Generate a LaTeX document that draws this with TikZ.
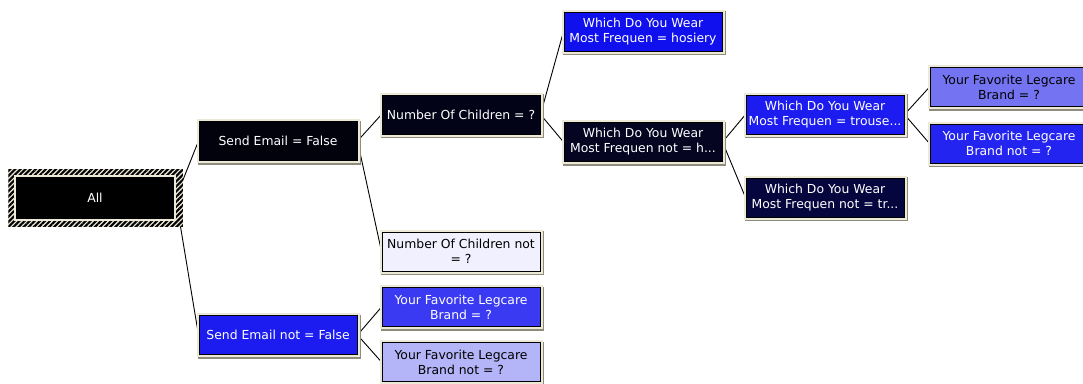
\documentclass[tikz,border=0pt]{standalone}
\usepackage{fontspec}
\setmainfont{DejaVu Sans}
\usetikzlibrary{patterns.meta,backgrounds}

% palette
\definecolor{frame}{HTML}{ECE9D8}
\definecolor{frameshade}{HTML}{8E8C7C}
\definecolor{nblack}{HTML}{02020C}
\definecolor{nnavyA}{HTML}{030318}
\definecolor{nnavyB}{HTML}{050522}
\definecolor{nnavyC}{HTML}{06063E}
\definecolor{nblue}{HTML}{1010EE}
\definecolor{nblueB}{HTML}{1C1CF0}
\definecolor{nblueC}{HTML}{2424F0}
\definecolor{nblueD}{HTML}{3A3AF2}
\definecolor{nmid}{HTML}{7474F2}
\definecolor{nlight}{HTML}{B4B4F8}
\definecolor{npale}{HTML}{F0F0FF}

\tikzset{
  box/.style={draw=black, line width=1pt, minimum width=158pt, minimum height=39pt,
    inner sep=0pt, align=center, text=white, font=\fontsize{12.4}{15}\selectfont,
    preaction={draw=frameshade, line width=5pt, transform canvas={xshift=1.5pt,yshift=-1.5pt}},
    preaction={draw=frame, line width=5pt}},
  rootbox/.style={fill=black, draw=frame, line width=1.5pt, minimum width=160pt,
    minimum height=44pt, inner sep=0pt, text=white, font=\fontsize{12.4}{15}\selectfont},
  link/.style={draw=black, line width=0.9pt},
  hatch/.style={pattern={Lines[angle=45,distance=3.6pt,line width=2.1pt]}, pattern color=black}
}

\begin{document}
\begin{tikzpicture}[x=1pt,y=-1pt]
\useasboundingbox (0,0) rectangle (1083,383);

% root of the tree
\node[rootbox] (all) at (95,198) {All};

% first split
\node[box, fill=nblack] (sef) at (278,141) {Send Email = False};
\node[box, fill=nblueB] (sen) at (278,335) {Send Email not = False};

% second level
\node[box, fill=nnavyA] (noc) at (461,114.5) {Number Of Children = ?};
\node[box, fill=npale, text=black] (nocn) at (461,251.5) {Number Of Children not\\= ?};
\node[box, fill=nblueD] (lbb) at (461,307) {Your Favorite Legcare\\Brand = ?};
\node[box, fill=nlight, text=black] (lbbn) at (461,362) {Your Favorite Legcare\\Brand not = ?};

% third level
\node[box, fill=nblue] (hos) at (643,31.5) {Which Do You Wear\\Most Frequen = hosiery};
\node[box, fill=nnavyB] (hosn) at (643,142) {Which Do You Wear\\Most Frequen not = h...};

% fourth level
\node[box, fill=nblueB] (tro) at (825,114.5) {Which Do You Wear\\Most Frequen = trouse...};
\node[box, fill=nnavyC] (tron) at (825,197.5) {Which Do You Wear\\Most Frequen not = tr...};

% fifth level
\node[box, fill=nmid, text=black] (lbt) at (1009,87) {Your Favorite Legcare\\Brand = ?};
\node[box, fill=nblueC] (lbtn) at (1009,143.5) {Your Favorite Legcare\\Brand not = ?};

\begin{pgfonlayer}{background}
  % connectors run east to west behind the boxes
  \draw[link] (all.east) -- (sef.west);
  \draw[link] (all.east) -- (sen.west);
  \draw[link] (sef.east) -- (noc.west);
  \draw[link] (sef.east) -- (nocn.west);
  \draw[link] (sen.east) -- (lbb.west);
  \draw[link] (sen.east) -- (lbbn.west);
  \draw[link] (noc.east) -- (hos.west);
  \draw[link] (noc.east) -- (hosn.west);
  \draw[link] (hosn.east) -- (tro.west);
  \draw[link] (hosn.east) -- (tron.west);
  \draw[link] (tro.east) -- (lbt.west);
  \draw[link] (tro.east) -- (lbtn.west);
  % hatched selection frame round the root
  \fill[frame] ([shift={(-6,-6)}]all.north west) rectangle ([shift={(7,6)}]all.south east);
  \fill[hatch] ([shift={(-6,-6)}]all.north west) rectangle ([shift={(7,6)}]all.south east);
\end{pgfonlayer}
\end{tikzpicture}
\end{document}
